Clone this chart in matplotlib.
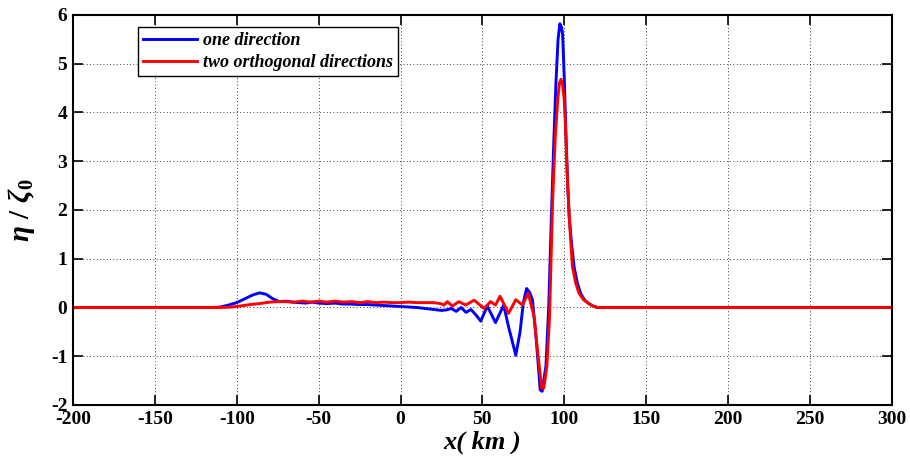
import numpy as np
import matplotlib
matplotlib.use("Agg")
import matplotlib.pyplot as plt

# surface elevation profiles
x_one = [-200, -115, -110, -105, -100, -95, -90, -86, -82, -78, -74, -70, -66, -62,
         -58, -54, -50, -45, -40, -35, -30, -25, -20, -15, -10, -5, 0, 5, 10, 15,
         20, 25, 28, 31, 34, 37, 40, 43, 46, 49, 53, 58, 63, 66, 70.4, 73, 75, 77,
         79, 80.6, 83, 85.3, 86.5, 88.8, 90.5, 91.8, 93.5, 94.9, 96.2, 97.3, 98.3,
         99, 100, 101, 102, 103, 104.5, 106, 108, 110, 112.5, 115, 117.5, 120.4,
         125, 300]
y_one = [0, 0, 0.01, 0.05, 0.1, 0.18, 0.26, 0.3, 0.27, 0.18, 0.12, 0.13, 0.11, 0.1,
         0.09, 0.11, 0.09, 0.08, 0.09, 0.07, 0.07, 0.06, 0.06, 0.05, 0.04, 0.03,
         0.02, 0.01, 0.0, -0.02, -0.04, -0.06, -0.05, -0.02, -0.08, 0.0, -0.1,
         -0.04, -0.15, -0.28, 0.03, -0.31, 0.05, -0.4, -0.98, -0.5, 0.1, 0.39, 0.3,
         0.15, -0.7, -1.69, -1.72, -1.2, 0.0, 1.5, 3.3, 4.6, 5.5, 5.82, 5.75, 5.6,
         4.7, 3.56, 2.6, 1.86, 1.3, 0.83, 0.5, 0.29, 0.15, 0.08, 0.03, 0.0, 0, 0]

x_two = [-200, -110, -103, -98, -92, -86, -80, -75, -70, -65, -60, -55, -50, -45,
         -40, -35, -30, -25, -20, -15, -10, -5, 0, 5, 10, 15, 20, 24.5, 26.6, 28.6,
         31.6, 35.7, 39.8, 45, 51, 55, 58, 60.8, 66, 70.4, 74.5, 78, 81.6, 84,
         86.3, 87.5, 89.4, 91, 92.9, 94.5, 96, 97, 98, 99, 100, 101, 102, 103.5,
         105, 107, 109, 112, 115, 117.5, 120, 300]
y_two = [0, 0, 0.01, 0.03, 0.06, 0.08, 0.11, 0.12, 0.12, 0.11, 0.13, 0.11, 0.13,
         0.11, 0.13, 0.11, 0.12, 0.1, 0.12, 0.1, 0.11, 0.1, 0.1, 0.11, 0.1, 0.1,
         0.1, 0.08, 0.05, 0.12, 0.03, 0.12, 0.05, 0.15, -0.02, 0.12, 0.05, 0.23,
         -0.12, 0.16, 0.05, 0.29, -0.19, -1.0, -1.66, -1.65, -1.2, -0.2, 2.2, 3.5,
         4.25, 4.6, 4.68, 4.55, 4.25, 3.5, 2.54, 1.6, 0.83, 0.5, 0.29, 0.15, 0.08,
         0.03, 0.0, 0]

xticks = [-200, -150, -100, -50, 0, 50, 100, 150, 200, 250, 300]
yticks = [-2, -1, 0, 1, 2, 3, 4, 5, 6]

plt.rcParams['font.family'] = ['Liberation Serif', 'DejaVu Serif']
plt.rcParams['axes.unicode_minus'] = False
plt.rcParams['mathtext.fontset'] = 'custom'
plt.rcParams['mathtext.it'] = 'Liberation Serif:italic:bold'
plt.rcParams['mathtext.rm'] = 'Liberation Serif:bold'

fig = plt.figure(figsize=(9.1, 4.57), dpi=100)
ax = fig.add_axes([0.0802, 0.1138, 0.8998, 0.8534])

ax.plot(x_one, y_one, color='#0000ff', lw=2.1, label='one direction')
ax.plot(x_two, y_two, color='#ff0000', lw=2.1, label='two orthogonal directions')

ax.set_xlim(-200, 300)
ax.set_ylim(-2, 6)
ax.set_xticks(xticks)
ax.set_yticks(yticks)
ax.grid(True, color='black', linestyle=(0, (1, 3)), linewidth=0.6)
ax.tick_params(direction='in', length=7, width=1.2, top=True, right=True,
               labelsize=14, pad=4)
for lab in ax.get_xticklabels() + ax.get_yticklabels():
    lab.set_fontweight('bold')
for sp in ax.spines.values():
    sp.set_linewidth(1.5)

ax.set_xlabel('x( km )', fontsize=19, fontstyle='italic', fontweight='bold',
              labelpad=2)
ax.set_ylabel(r'$\eta\ /\ \zeta_0$', fontsize=21, labelpad=10)

leg = ax.legend(loc='upper left', bbox_to_anchor=(0.079, 0.969),
                borderaxespad=0, fancybox=False, framealpha=1,
                edgecolor='black', handlelength=3.0, handletextpad=0.3,
                labelspacing=0.25, borderpad=0.3,
                prop={'size': 13, 'style': 'italic', 'weight': 'bold'})
leg.get_frame().set_linewidth(1.0)

plt.savefig('out.png', dpi=100)
plt.close()
